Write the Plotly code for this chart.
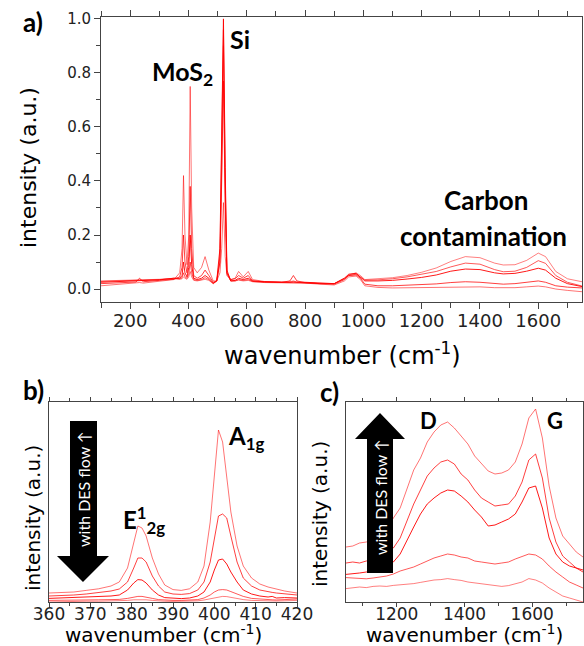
import plotly.graph_objects as go

W, H = 584, 646

# ---------------- Panel a data ----------------
wn_a = [100, 160, 220, 232, 245, 300, 350, 370, 378, 383, 388, 395, 401, 406, 411, 418, 430, 445, 457, 470,
        485, 497, 508, 514, 520, 526, 532, 545, 560, 572, 588, 605, 620, 660, 720, 748, 760, 772, 800, 850,
        900, 935, 950, 975, 990, 1005, 1050, 1100, 1150, 1200, 1250, 1300, 1350, 1400, 1450, 1480, 1520, 1560,
        1600, 1625, 1660, 1700, 1750]

int_a1 = [0.012, 0.018, 0.022, 0.024, 0.022, 0.030, 0.035, 0.06, 0.15, 0.42, 0.2, 0.09, 0.2, 0.75, 0.3, 0.08, 0.06, 0.08, 0.12, 0.07,
          0.03, 0.03, 0.06, 0.15, 0.32, 0.12, 0.05, 0.035, 0.04, 0.065, 0.045, 0.065, 0.035, 0.028, 0.025, 0.027, 0.03, 0.026, 0.022, 0.018,
          0.015, 0.03, 0.045, 0.048, 0.035, 0.012, 0.006, 0.004, 0.005, 0.006, 0.007, 0.008, 0.009, 0.008, 0.005, 0.004, 0.005, 0.008,
          0.011, 0.008, 0.0, -0.005, -0.01]
int_a2 = [0.02, 0.022, 0.026, 0.04, 0.027, 0.032, 0.036, 0.045, 0.08, 0.2, 0.1, 0.06, 0.12, 0.38, 0.15, 0.05, 0.04, 0.05, 0.07, 0.05,
          0.025, 0.03, 0.1, 0.4, 0.77, 0.3, 0.06, 0.035, 0.038, 0.05, 0.04, 0.05, 0.03, 0.027, 0.025, 0.03, 0.05, 0.03, 0.024, 0.02,
          0.018, 0.035, 0.05, 0.052, 0.04, 0.018, 0.012, 0.012, 0.014, 0.016, 0.019, 0.024, 0.027, 0.025, 0.02, 0.018, 0.02, 0.025,
          0.03, 0.025, 0.012, 0.007, 0.004]
int_a3 = [0.025, 0.027, 0.03, 0.03, 0.03, 0.034, 0.04, 0.04, 0.05, 0.1, 0.06, 0.045, 0.08, 0.2, 0.09, 0.04, 0.035, 0.04, 0.05, 0.04,
          0.022, 0.03, 0.15, 0.6, 1.0, 0.45, 0.07, 0.03, 0.032, 0.04, 0.035, 0.04, 0.03, 0.027, 0.025, 0.025, 0.027, 0.025, 0.025, 0.022,
          0.02, 0.04, 0.055, 0.058, 0.045, 0.03, 0.03, 0.032, 0.037, 0.043, 0.052, 0.066, 0.074, 0.072, 0.06, 0.056, 0.058, 0.066,
          0.077, 0.07, 0.04, 0.02, 0.009]
int_a4 = [0.028, 0.03, 0.032, 0.032, 0.031, 0.035, 0.04, 0.038, 0.042, 0.06, 0.045, 0.04, 0.055, 0.1, 0.06, 0.035, 0.032, 0.035, 0.042, 0.035,
          0.02, 0.03, 0.12, 0.55, 0.96, 0.4, 0.06, 0.03, 0.03, 0.035, 0.032, 0.035, 0.028, 0.025, 0.024, 0.024, 0.025, 0.024, 0.023, 0.02,
          0.02, 0.038, 0.05, 0.055, 0.045, 0.033, 0.034, 0.038, 0.045, 0.054, 0.065, 0.082, 0.096, 0.092, 0.072, 0.064, 0.066, 0.08,
          0.105, 0.095, 0.05, 0.025, 0.011]
int_a5 = [0.03, 0.031, 0.033, 0.033, 0.033, 0.036, 0.038, 0.036, 0.038, 0.045, 0.04, 0.036, 0.045, 0.065, 0.045, 0.032, 0.03, 0.032, 0.036, 0.032,
          0.02, 0.03, 0.1, 0.45, 0.9, 0.35, 0.055, 0.03, 0.03, 0.033, 0.03, 0.032, 0.027, 0.024, 0.023, 0.023, 0.024, 0.023, 0.022, 0.02,
          0.02, 0.04, 0.052, 0.06, 0.05, 0.035, 0.037, 0.042, 0.05, 0.062, 0.078, 0.102, 0.12, 0.116, 0.096, 0.089, 0.09, 0.106,
          0.133, 0.12, 0.065, 0.038, 0.027]

# ---------------- Panel b data ----------------
wn_b = [360, 363, 366, 369, 372, 375, 377, 379, 380.5, 381.5, 382.5, 383.5, 385, 386.5, 388, 390, 392, 394, 396, 397.5,
        399, 400, 401, 402, 403, 404, 405.5, 407, 409, 411, 413, 414, 415, 417, 420]
int_b1 = [0.045, 0.048, 0.05, 0.058, 0.066, 0.08, 0.1, 0.17, 0.3, 0.38, 0.37, 0.33, 0.22, 0.14, 0.085, 0.062, 0.058, 0.066, 0.1, 0.18,
          0.4, 0.62, 0.86, 0.8, 0.62, 0.45, 0.28, 0.18, 0.12, 0.09, 0.075, 0.07, 0.065, 0.055, 0.045]
int_b2 = [0.03, 0.032, 0.035, 0.04, 0.048, 0.055, 0.065, 0.1, 0.17, 0.22, 0.22, 0.2, 0.13, 0.08, 0.05, 0.04, 0.038, 0.042, 0.06, 0.1,
          0.2, 0.32, 0.43, 0.44, 0.42, 0.33, 0.2, 0.12, 0.08, 0.06, 0.05, 0.048, 0.045, 0.04, 0.035]
int_b3 = [0.018, 0.02, 0.022, 0.025, 0.028, 0.03, 0.035, 0.06, 0.095, 0.112, 0.11, 0.095, 0.06, 0.035, 0.022, 0.018, 0.017, 0.02, 0.03, 0.05,
          0.1, 0.16, 0.21, 0.215, 0.19, 0.15, 0.1, 0.06, 0.04, 0.03, 0.025, 0.028, 0.02, 0.022, 0.02]
int_b4 = [0.008, 0.008, 0.009, 0.01, 0.011, 0.012, 0.013, 0.018, 0.025, 0.028, 0.028, 0.025, 0.018, 0.012, 0.009, 0.008, 0.008, 0.009, 0.012, 0.02,
          0.035, 0.05, 0.06, 0.062, 0.06, 0.052, 0.04, 0.028, 0.018, 0.014, 0.012, 0.011, 0.01, 0.012, 0.015]
int_b5 = [0.0, 0.002, 0.003, 0.004, 0.004, 0.005, 0.006, 0.008, 0.011, 0.012, 0.012, 0.011, 0.008, 0.005, 0.004, 0.003, 0.003, 0.004, 0.006, 0.01,
          0.016, 0.022, 0.027, 0.028, 0.027, 0.023, 0.017, 0.012, 0.008, 0.006, 0.005, 0.005, 0.005, 0.006, 0.008]

# ---------------- Panel c data ----------------
wn_c = [1050, 1070, 1090, 1110, 1130, 1150, 1170, 1190, 1210, 1230, 1250, 1270, 1290, 1310, 1330, 1350, 1370, 1390,
        1410, 1430, 1450, 1470, 1490, 1510, 1530, 1550, 1570, 1590, 1610, 1630, 1650, 1670, 1690, 1710, 1730, 1750]
int_c1 = [0.275, 0.28, 0.295, 0.3, 0.312, 0.33, 0.36, 0.42, 0.47, 0.56, 0.66, 0.72, 0.8, 0.85, 0.885, 0.9, 0.87, 0.83,
          0.79, 0.73, 0.69, 0.655, 0.64, 0.645, 0.66, 0.7, 0.79, 0.92, 0.965, 0.82, 0.58, 0.42, 0.33, 0.29, 0.25, 0.225]
int_c2 = [0.195, 0.2, 0.195, 0.205, 0.21, 0.22, 0.24, 0.27, 0.32, 0.41, 0.49, 0.56, 0.63, 0.67, 0.7, 0.71, 0.69, 0.64,
          0.61, 0.56, 0.52, 0.5, 0.48, 0.485, 0.49, 0.53, 0.6, 0.71, 0.74, 0.62, 0.42, 0.3, 0.23, 0.2, 0.17, 0.15]
int_c3 = [0.138, 0.14, 0.145, 0.15, 0.155, 0.16, 0.17, 0.2, 0.24, 0.31, 0.375, 0.44, 0.49, 0.52, 0.545, 0.56, 0.555, 0.53,
          0.5, 0.46, 0.425, 0.38, 0.385, 0.4, 0.415, 0.44, 0.5, 0.57, 0.58, 0.47, 0.32, 0.24, 0.2, 0.18, 0.17, 0.16]
int_c4 = [0.122, 0.12, 0.118, 0.116, 0.12, 0.125, 0.13, 0.14, 0.155, 0.165, 0.175, 0.19, 0.205, 0.22, 0.23, 0.24, 0.235, 0.225,
          0.22, 0.205, 0.2, 0.195, 0.19, 0.195, 0.2, 0.215, 0.228, 0.24, 0.235, 0.215, 0.18, 0.15, 0.125, 0.1, 0.085, 0.07]
int_c5 = [0.067, 0.07, 0.075, 0.072, 0.078, 0.08, 0.078, 0.083, 0.085, 0.09, 0.092, 0.098, 0.105, 0.11, 0.112, 0.117, 0.112, 0.108,
          0.1, 0.095, 0.09, 0.085, 0.08, 0.078, 0.082, 0.09, 0.1, 0.117, 0.11, 0.095, 0.07, 0.05, 0.03, 0.02, 0.01, 0.0]

series_a = [int_a1, int_a2, int_a3, int_a4, int_a5]
series_b = [int_b1, int_b2, int_b3, int_b4, int_b5]
series_c = [int_c1, int_c2, int_c3, int_c4, int_c5]
alphas = [0.55, 0.75, 0.9, 0.65, 0.5]


def pxx(x):
    return x / W


def pyy(y):
    return 1 - y / H


fig = go.Figure()
for ys, al in zip(series_a, alphas):
    fig.add_trace(go.Scatter(x=wn_a, y=ys, mode="lines", line=dict(color=f"rgba(255,0,0,{al})", width=1),
                             xaxis="x", yaxis="y", hoverinfo="skip"))
for ys, al in zip(series_b, alphas):
    fig.add_trace(go.Scatter(x=wn_b, y=ys, mode="lines", line=dict(color=f"rgba(255,0,0,{al})", width=1),
                             xaxis="x2", yaxis="y2", hoverinfo="skip"))
for ys, al in zip(series_c, alphas):
    fig.add_trace(go.Scatter(x=wn_c, y=ys, mode="lines", line=dict(color=f"rgba(255,0,0,{al})", width=1),
                             xaxis="x3", yaxis="y3", hoverinfo="skip"))

AX = "#444444"
common_x = dict(showline=True, linecolor=AX, linewidth=1, mirror="ticks", ticks="outside", tickcolor=AX,
                showgrid=False, zeroline=False, automargin=False)
common_y = dict(showline=True, linecolor=AX, linewidth=1, mirror=True, showgrid=False, zeroline=False,
                automargin=False)

fig.update_layout(
    template="none",
    width=W, height=H,
    margin=dict(l=0, r=0, t=0, b=0, pad=0),
    paper_bgcolor="white", plot_bgcolor="white",
    showlegend=False,
    xaxis=dict(domain=[pxx(101), pxx(582)], range=[100, 1750], anchor="y", dtick=200, tick0=0, ticklen=6,
               ticklabelstandoff=-4, tickfont=dict(family="DejaVu Sans", size=18, color="#222"),
               minor=dict(ticks="outside", dtick=100, ticklen=5, tickcolor=AX), **common_x),
    yaxis=dict(domain=[pyy(302), pyy(17)], range=[-0.048, 1.007], anchor="x", ticks="outside", ticklen=6,
               tickcolor=AX, dtick=0.2, tick0=0, tickformat=".1f",
               minor=dict(ticks="outside", dtick=0.1, ticklen=4, tickcolor=AX),
               tickfont=dict(family="DejaVu Sans", size=15, color="#222"), **common_y),
    xaxis2=dict(domain=[pxx(49), pxx(297)], range=[360, 420], anchor="y2", dtick=10, tick0=360, ticklen=4,
                ticklabelstandoff=-7, tickfont=dict(family="DejaVu Sans", size=17, color="#222"),
                minor=dict(ticks="outside", dtick=5, ticklen=3, tickcolor=AX), **common_x),
    yaxis2=dict(domain=[pyy(602), pyy(402)], range=[0, 1], anchor="x2", showticklabels=False, ticks="", **common_y),
    xaxis3=dict(domain=[pxx(346), pxx(583)], range=[1050, 1750], anchor="y3", dtick=200, tick0=1000, ticklen=4,
                ticklabelstandoff=-7, tickfont=dict(family="DejaVu Sans", size=17, color="#222"),
                minor=dict(ticks="outside", dtick=100, ticklen=3, tickcolor=AX), **common_x),
    yaxis3=dict(domain=[pyy(602), pyy(402)], range=[0, 1], anchor="x3", showticklabels=False, ticks="", **common_y),
)


def ann(text, x, y, size, family="DejaVu Sans", bold=False, color="black", angle=0):
    t = f"<b>{text}</b>" if bold else text
    fig.add_annotation(text=t, x=pxx(x), y=pyy(y), xref="paper", yref="paper", showarrow=False,
                       xanchor="center", yanchor="middle", textangle=angle,
                       font=dict(family=family, size=size, color=color))


# axis titles
ann("wavenumber (cm<sup>-1</sup>)", 342, 354, 24)
ann("intensity (a.u.)", 28, 168, 22, angle=-90)
ann("wavenumber (cm<sup>-1</sup>)", 163, 634, 20)
ann("intensity (a.u.)", 33, 518, 20, angle=-90)
ann("wavenumber (cm<sup>-1</sup>)", 464, 634, 20)
ann("intensity (a.u.)", 320, 514, 20, angle=-90)

# panel labels
ann("a)", 33, 22, 26, family="Lato", bold=True)
ann("b)", 33, 390, 26, family="Lato", bold=True)
ann("c)", 329, 392, 26, family="Lato", bold=True)

# peak labels
ann("MoS<sub>2</sub>", 182, 73, 25, family="Lato", bold=True)
ann("Si", 240, 39, 25, family="Lato", bold=True)
ann("Carbon", 486, 200, 26, family="Lato", bold=True)
ann("contamination", 483, 236, 26, family="Lato", bold=True)
ann("E<sup>1</sup><sub>2g</sub>", 144, 520, 24, family="Lato", bold=True)
ann("A<sub>1g</sub>", 246, 437, 24, family="Lato", bold=True)
ann("D", 428, 420, 22, family="Lato", bold=True)
ann("G", 555, 420, 22, family="Lato", bold=True)


def path(points):
    s = "M " + " L ".join(f"{pxx(x):.5f},{pyy(y):.5f}" for x, y in points) + " Z"
    return s


# down arrow (panel b)
fig.add_shape(type="path", xref="paper", yref="paper", fillcolor="black", line=dict(color="black", width=0),
              path=path([(70, 421), (97, 421), (97, 556), (109, 556), (83, 582), (57, 556), (70, 556)]))
# up arrow (panel c)
fig.add_shape(type="path", xref="paper", yref="paper", fillcolor="black", line=dict(color="black", width=0),
              path=path([(380, 413), (405, 439), (393, 439), (393, 573), (367, 573), (367, 439), (355, 439)]))

ann("with DES flow \u2191", 83, 489, 16, family="Lato", color="white", angle=-90)
ann("with DES flow \u2191", 380, 497, 16, family="Lato", color="white", angle=-90)

fig.write_html("out.html", config={"displayModeBar": False},
               post_script="document.body.style.margin='0';document.body.style.overflow='hidden';")
